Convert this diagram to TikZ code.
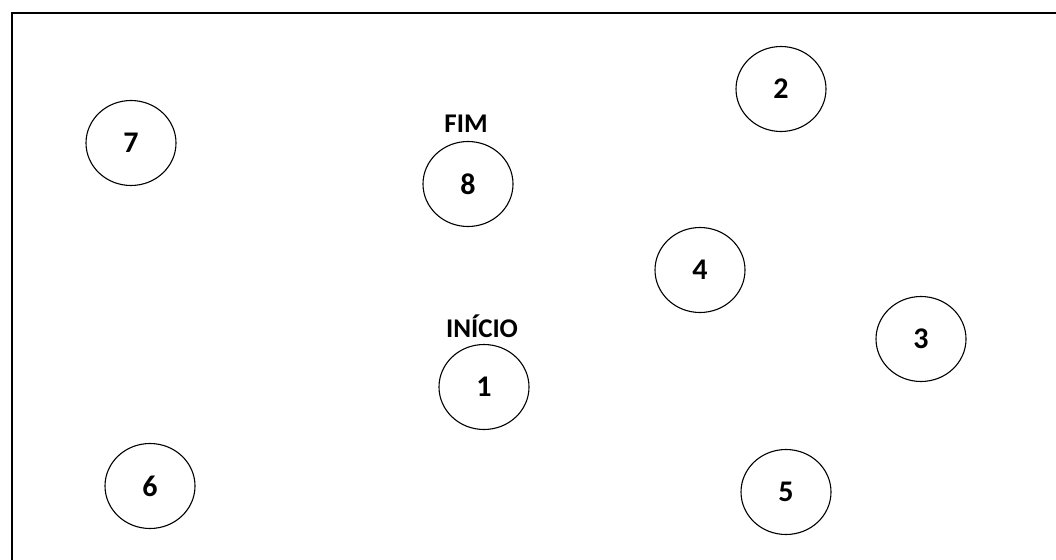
\documentclass[tikz,border=0pt]{standalone}
\usepackage{fontspec}
\setmainfont{Carlito}
\usetikzlibrary{shapes.geometric}
\begin{document}
\begin{tikzpicture}[x=1pt,y=-1pt,
  state/.style={draw=black,line width=1.1pt,ellipse,minimum width=90pt,minimum height=85pt,inner sep=0pt,
    font=\fontsize{30}{30}\selectfont\bfseries},
  lbl/.style={inner sep=0pt,font=\fontsize{27}{27}\selectfont\bfseries}]
\useasboundingbox (0,0) rectangle (1056,559);
\coordinate (fbl) at (11.5,600);
\coordinate (ftl) at (11.5,13);
\coordinate (ftr) at (1100,13);
\draw[line width=2pt] (fbl) -- (ftl) -- (ftr);
\node[state] (n7) at (131,143) {7};
\node[state] (n8) at (468,184) {8};
\node[state] (n2) at (781,89) {2};
\node[state] (n4) at (700,270) {4};
\node[state] (n3) at (921,339) {3};
\node[state] (n1) at (484,387) {1};
\node[state] (n6) at (150,486) {6};
\node[state] (n5) at (786,492) {5};
\node[lbl] (fim) at (466,124) {FIM};
\node[lbl] (ini) at (482,326) {INÍCIO};
\end{tikzpicture}
\end{document}
